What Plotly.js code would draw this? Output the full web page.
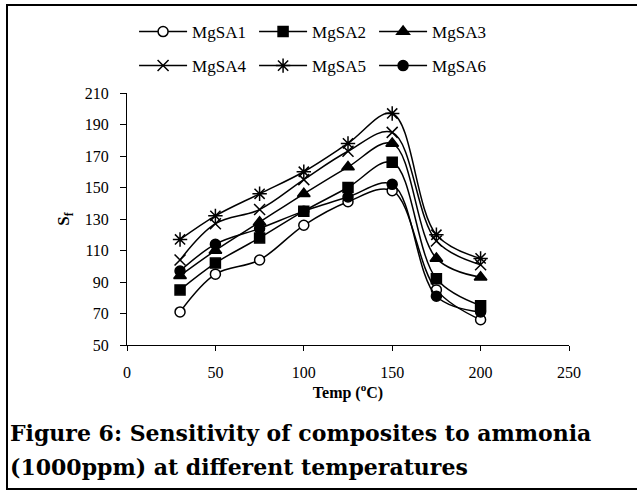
<!DOCTYPE html>
<html>
<head>
<meta charset="utf-8">
<script src="https://cdn.plot.ly/plotly-3.0.1.min.js"></script>
<style>
  html, body { margin: 0; padding: 0; background: #fff; }
  #wrap { position: relative; width: 637px; height: 494px; overflow: hidden; }
  #frame { position: absolute; left: 6px; top: 4px; width: 650px; height: 486px; border: 2px solid #000; box-sizing: border-box; }
  #chart { position: absolute; left: 0; top: 0; width: 637px; height: 494px; }
</style>
</head>
<body>
<div id="wrap">
  <div id="frame"></div>
  <div id="chart"></div>
</div>
<script>
const temps = [30, 50, 75, 100, 125, 150, 175, 200];
const MgSA1 = [71, 95, 104, 126, 141, 148, 85, 66];
const MgSA2 = [85, 102, 118, 135, 150, 166, 92, 75];
const MgSA3 = [94, 110, 128, 146, 163, 178, 105, 93];
const MgSA4 = [104, 127, 136, 155, 173, 185, 116, 101];
const MgSA5 = [117, 132, 146, 160, 178, 197, 120, 105];
const MgSA6 = [97, 114, 124, 135, 144, 152, 81, 71];
const seriesNames = ['MgSA1', 'MgSA2', 'MgSA3', 'MgSA4', 'MgSA5', 'MgSA6'];
const xTicks = [0, 50, 100, 150, 200, 250];
const yTicks = [50, 70, 90, 110, 130, 150, 170, 190, 210];

const serif = '"Liberation Serif", serif';
const capFont = '"DejaVu Serif", serif';
const seriesData = [MgSA1, MgSA2, MgSA3, MgSA4, MgSA5, MgSA6];
const symbols = ['circle', 'square', 'triangle-up', 'x-thin-open', 'asterisk-open', 'circle'];
const fills = ['#ffffff', '#000000', '#000000', '#000000', '#000000', '#000000'];
const sizes = [10, 10, 11, 11, 12, 10];
const legends = ['legend', 'legend', 'legend', 'legend2', 'legend2', 'legend2'];

const traces = seriesData.map((ys, i) => ({
  type: 'scatter',
  mode: 'lines+markers',
  x: temps,
  y: ys,
  name: seriesNames[i],
  legend: legends[i],
  line: { color: '#000', width: 1.5, shape: 'spline', smoothing: 1 },
  marker: { symbol: symbols[i], size: sizes[i], color: fills[i], line: { color: '#000', width: 1.5 } }
}));

const legendCommon = {
  orientation: 'h',
  xanchor: 'left',
  yanchor: 'middle',
  x: 0.016,
  font: { family: serif, size: 17, color: '#000' },
  bgcolor: 'rgba(0,0,0,0)',
  itemwidth: 48,
  entrywidth: 57,
  entrywidthmode: 'pixels',
  traceorder: 'normal',
  itemclick: false
};

const layout = {
  width: 637,
  height: 494,
  margin: { l: 127, r: 68, t: 93, b: 149, autoexpand: false },
  paper_bgcolor: 'rgba(0,0,0,0)',
  plot_bgcolor: 'rgba(0,0,0,0)',
  font: { family: serif, color: '#000' },
  showlegend: true,
  legend: Object.assign({}, legendCommon, { y: 1.242 }),
  legend2: Object.assign({}, legendCommon, { y: 1.107 }),
  xaxis: {
    range: [0, 250],
    tickvals: xTicks,
    ticks: 'outside',
    ticklen: 5,
    tickcolor: '#000',
    showline: true,
    linecolor: '#000',
    linewidth: 1,
    showgrid: false,
    zeroline: false,
    tickfont: { family: serif, size: 16, color: '#000' },
    ticklabelstandoff: 8,
    title: { text: '<b>Temp (<sup>o</sup>C)</b>', font: { family: serif, size: 16, color: '#000' }, standoff: 6 }
  },
  yaxis: {
    range: [50, 210],
    tickvals: yTicks,
    ticks: 'outside',
    ticklen: 6,
    tickcolor: '#000',
    showline: true,
    linecolor: '#000',
    linewidth: 1,
    showgrid: false,
    zeroline: false,
    tickfont: { family: serif, size: 16, color: '#000' },
    ticklabelstandoff: 8,
    title: { text: '<b>S<sub>f</sub></b>', font: { family: serif, size: 17, color: '#000' }, standoff: 10 }
  },
  annotations: [
    {
      xref: 'paper', yref: 'paper', x: -0.27, y: -0.35, xanchor: 'left', yanchor: 'middle',
      text: '<b>Figure 6: Sensitivity of composites to ammonia</b>',
      showarrow: false, font: { family: capFont, size: 22, color: '#000' }
    },
    {
      xref: 'paper', yref: 'paper', x: -0.27, y: -0.485, xanchor: 'left', yanchor: 'middle',
      text: '<b>(1000ppm) at different temperatures</b>',
      showarrow: false, font: { family: capFont, size: 22, color: '#000' }
    }
  ]
};

Plotly.newPlot('chart', traces, layout, { displayModeBar: false, staticPlot: true });
</script>
</body>
</html>
